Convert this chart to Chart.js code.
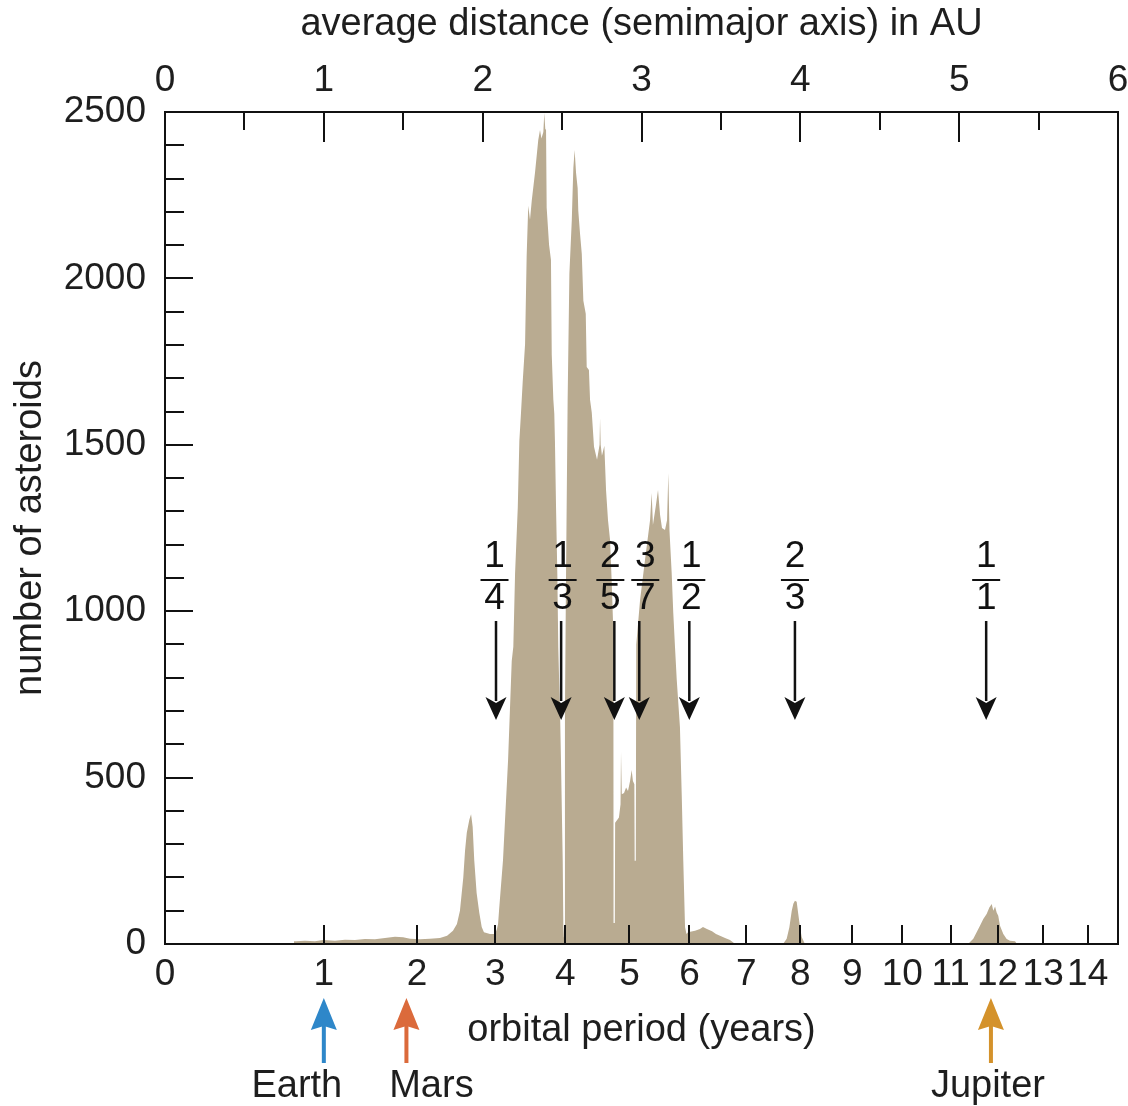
<!DOCTYPE html>
<html>
<head>
<meta charset="utf-8">
<script src="https://cdn.jsdelivr.net/npm/chart.js@4.4.1/dist/chart.umd.min.js"></script>
<style>
  html, body { margin: 0; padding: 0; background: #fff; }
  #wrap { width: 1128px; height: 1106px; }
</style>
</head>
<body>
<div id="wrap"><canvas id="chart"></canvas></div>
<script>
// histogram outline: semimajor axis (AU) -> number of asteroids
const semiMajorAU = [
  0.806, 0.812, 0.825, 0.881, 0.944, 0.995, 1.070, 1.133, 1.196, 1.259,
  1.322, 1.385, 1.448, 1.499, 1.543, 1.606, 1.668, 1.731, 1.776, 1.813,
  1.838, 1.857, 1.878, 1.889, 1.900, 1.916, 1.927, 1.937, 1.947, 1.962,
  1.979, 1.994, 2.008, 2.046, 2.078, 2.090, 2.097, 2.103, 2.128, 2.160,
  2.183, 2.193, 2.204, 2.221, 2.231, 2.241, 2.252, 2.267, 2.277, 2.287,
  2.298, 2.309, 2.330, 2.350, 2.361, 2.370, 2.382, 2.388, 2.394, 2.399,
  2.403, 2.418, 2.430, 2.435, 2.445, 2.451, 2.455, 2.462, 2.470, 2.476,
  2.481, 2.487, 2.493, 2.504, 2.508, 2.511, 2.515, 2.518, 2.525, 2.535,
  2.546, 2.561, 2.567, 2.571, 2.579, 2.588, 2.598, 2.602, 2.613, 2.624,
  2.634, 2.649, 2.655, 2.669, 2.676, 2.687, 2.701, 2.720, 2.736, 2.739,
  2.743, 2.751, 2.766, 2.777, 2.789, 2.802, 2.812, 2.823, 2.824, 2.832,
  2.834, 2.858, 2.868, 2.871, 2.876, 2.890, 2.903, 2.915, 2.928, 2.938,
  2.946, 2.955, 2.957, 2.964, 2.967, 2.991, 3.022, 3.054, 3.064, 3.072,
  3.091, 3.104, 3.117, 3.129, 3.148, 3.161, 3.169, 3.176, 3.190, 3.200,
  3.211, 3.222, 3.242, 3.253, 3.263, 3.274, 3.283, 3.293, 3.337, 3.368,
  3.387, 3.412, 3.444, 3.469, 3.494, 3.526, 3.557, 3.576, 3.589, 3.891,
  3.914, 3.931, 3.946, 3.956, 3.966, 3.977, 3.987, 3.998, 4.009, 4.029,
  5.056, 5.089, 5.110, 5.131, 5.152, 5.173, 5.190, 5.205, 5.215, 5.226,
  5.236, 5.246, 5.257, 5.278, 5.299, 5.320, 5.352, 5.364
];
const asteroidCounts = [
  0, 8, 8, 10, 8, 12, 10, 13, 12, 15,
  14, 18, 22, 20, 16, 14, 16, 18, 25, 40,
  60, 100, 200, 280, 334, 373, 390, 352, 252, 153,
  93, 51, 35, 30, 30, 45, 60, 100, 252, 553,
  850, 893, 1113, 1311, 1512, 1593, 1689, 1803, 2068, 2218,
  2176, 2233, 2320, 2416, 2446, 2420, 2440, 2497, 2450, 2446,
  2212, 2101, 2055, 1770, 1635, 1593, 1512, 1311, 1113, 893,
  800, 700, 553, 252, 51, 20, 20, 700, 1115, 1635,
  2014, 2173, 2272, 2332, 2386, 2317, 2272, 2203, 2134, 2074,
  1933, 1894, 1734, 1725, 1635, 1596, 1494, 1455, 1500, 1580,
  1500, 1467, 1497, 1362, 1274, 1214, 1094, 935, 63, 63,
  364, 380, 420, 577, 450, 454, 470, 460, 490, 523,
  490, 480, 250, 250, 900, 1034, 1154, 1274, 1355, 1259,
  1319, 1364, 1289, 1250, 1244, 1274, 1415, 1244, 1115, 995,
  892, 793, 652, 454, 252, 51, 30, 35, 40, 45,
  51, 45, 38, 30, 25, 18, 12, 5, 0, 0,
  16, 50, 100, 121, 130, 127, 90, 50, 20, 0,
  0, 16, 35, 55, 75, 90, 110, 120, 100, 113,
  95, 85, 55, 30, 15, 10, 8, 0
];

// bottom axis: orbital period in years (placed at a = P^(2/3) AU)
const periodYears = [0, 1, 2, 3, 4, 5, 6, 7, 8, 9, 10, 11, 12, 13, 14];

// resonances with Jupiter
const resonanceAU = [2.084, 2.494, 2.829, 2.986, 3.301, 3.966, 5.170];
const resonanceNum = ['1', '1', '2', '3', '1', '2', '1'];
const resonanceDen = ['4', '3', '5', '7', '2', '3', '1'];

// planets
const planetNames = ['Earth', 'Mars', 'Jupiter'];
const planetAU = [1.0, 1.52, 5.2];

const FONT = "'Liberation Sans', Arial, sans-serif";
Chart.defaults.font.family = FONT;
Chart.defaults.font.size = 37;
Chart.defaults.color = '#1e1e1e';

const overlay = {
  id: 'overlay',
  afterDatasetsDraw(chart, args, opts) {
    const { ctx, chartArea: a, scales } = chart;
    const x = scales.x, y = scales.y;
    ctx.save();

    // inward ticks
    ctx.strokeStyle = '#111';
    ctx.lineWidth = 2;
    ctx.beginPath();
    for (let v = 100; v < 2500; v += 100) {
      const py = Math.round(y.getPixelForValue(v));
      ctx.moveTo(a.left, py);
      ctx.lineTo(a.left + (v % 500 === 0 ? 28 : 19), py);
    }
    for (let d = 0.5; d < 6; d += 0.5) {
      const px = Math.round(x.getPixelForValue(d));
      ctx.moveTo(px, a.top);
      ctx.lineTo(px, a.top + (d % 1 === 0 ? 30 : 18));
    }
    scales.xP.ticks.forEach(t => {
      if (t.value <= 0) return;
      const px = Math.round(scales.xP.getPixelForValue(t.value));
      ctx.moveTo(px, a.bottom);
      ctx.lineTo(px, a.bottom - 19);
    });
    ctx.stroke();
    ctx.strokeRect(a.left, a.top, a.right - a.left, a.bottom - a.top);

    // resonance fractions and arrows
    ctx.fillStyle = '#111';
    ctx.font = '37px ' + FONT;
    ctx.textAlign = 'center';
    ctx.textBaseline = 'middle';
    resonanceAU.forEach((au, i) => {
      const px = x.getPixelForValue(au);
      const lx = px + opts.labelShift[i];
      ctx.fillText(resonanceNum[i], lx, 557);
      ctx.fillRect(lx - 14, 579, 28, 2);
      ctx.fillText(resonanceDen[i], lx, 599);
      ctx.fillRect(px - 1.25, 621, 2.5, 80);
      ctx.beginPath();
      ctx.moveTo(px, 720);
      ctx.lineTo(px - 10.5, 697);
      ctx.lineTo(px, 703);
      ctx.lineTo(px + 10.5, 697);
      ctx.closePath();
      ctx.fill();
    });

    // planet arrows below the axis
    ctx.font = '38px ' + FONT;
    planetAU.forEach((au, i) => {
      const px = x.getPixelForValue(au);
      ctx.fillStyle = opts.planetColors[i];
      ctx.fillRect(px - 2, 1026, 4, 37);
      ctx.beginPath();
      ctx.moveTo(px, 998);
      ctx.lineTo(px - 13, 1030);
      ctx.lineTo(px, 1026);
      ctx.lineTo(px + 13, 1030);
      ctx.closePath();
      ctx.fill();
      ctx.fillStyle = '#1e1e1e';
      ctx.fillText(planetNames[i], px + opts.nameShift[i], 1087);
    });
    ctx.restore();
  }
};

const ctx = document.getElementById('chart').getContext('2d');
new Chart(ctx, {
  type: 'line',
  data: {
    datasets: [{
      data: semiMajorAU.map((au, i) => ({ x: au, y: asteroidCounts[i] })),
      xAxisID: 'x',
      yAxisID: 'y',
      borderWidth: 0,
      pointRadius: 0,
      tension: 0,
      fill: 'origin',
      backgroundColor: '#b9ab91'
    }]
  },
  options: {
    responsive: true,
    maintainAspectRatio: false,
    animation: false,
    devicePixelRatio: 1,
    layout: { padding: 0 },
    plugins: {
      legend: { display: false },
      tooltip: { enabled: false },
      overlay: {
        labelShift: [-1.5, 1.5, -4, 6, 2, 0, 0],
        planetColors: ['#2e87c9', '#db6a3b', '#d4922b'],
        nameShift: [-27, 25, -3]
      }
    },
    scales: {
      x: {
        type: 'linear', position: 'top', min: 0, max: 6,
        grid: { display: false, drawTicks: false },
        border: { display: false },
        ticks: { stepSize: 1, autoSkip: false, maxRotation: 0, padding: 9 },
        title: { display: true, text: 'average distance (semimajor axis) in AU', font: { size: 38 }, padding: { top: 2, bottom: 0 } },
        afterFit: s => { s.height = 112; s.paddingLeft = 0; s.paddingRight = 10; }
      },
      xP: {
        type: 'linear', position: 'bottom', min: 0, max: 6,
        grid: { display: false, drawTicks: false },
        border: { display: false },
        afterBuildTicks: s => { s.ticks = periodYears.map(p => ({ value: Math.pow(p, 2 / 3) })); },
        ticks: { autoSkip: false, maxRotation: 0, minRotation: 0, padding: 9, callback: (v, i) => String(periodYears[i]) },
        title: { display: true, text: 'orbital period (years)', font: { size: 38 }, padding: { top: 0, bottom: 53 } },
        afterFit: s => { s.height = 162; s.paddingLeft = 0; s.paddingRight = 10; }
      },
      y: {
        min: 0, max: 2500,
        grid: { display: false, drawTicks: false },
        border: { display: false },
        ticks: { stepSize: 500, padding: 19, callback: v => String(v) },
        title: { display: true, text: 'number of asteroids', font: { size: 38 }, padding: { top: 8, bottom: 0 } },
        afterFit: s => { s.width = 165; }
      }
    }
  },
  plugins: [overlay]
});
</script>
</body>
</html>
